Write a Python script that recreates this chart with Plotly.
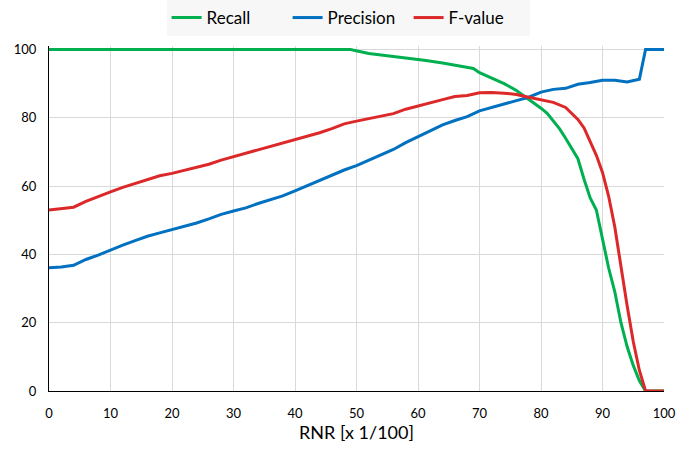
import plotly.graph_objects as go

# Recall
rec_x = [0, 49, 52, 55, 58, 61, 64, 67, 69, 70, 72, 74, 76, 78, 80, 81, 82, 83, 84, 85, 86, 87, 88, 89, 90, 91, 92, 93, 94, 95, 96, 97, 100]
rec_y = [100, 100, 98.8, 98.2, 97.5, 96.8, 96, 95, 94.4, 93.2, 91.5, 90, 88, 85.5, 82.8, 81.3, 79.2, 76.8, 74, 71, 68, 62, 56.5, 53, 45, 36, 29, 20, 13, 7.5, 3, 0, 0]

# Precision
pre_x = [0, 2, 4, 6, 8, 10, 12, 14, 16, 18, 20, 22, 24, 26, 28, 30, 32, 34, 36, 38, 40, 42, 44, 46, 48, 50,
         52, 54, 56, 58, 60, 62, 64, 66, 68, 70, 72, 74, 76, 78, 80, 82, 84, 86, 88, 90, 92, 94, 96, 97, 100]
pre_y = [36.1, 36.3, 36.8, 38.5, 39.8, 41.3, 42.7, 44, 45.3, 46.3, 47.2, 48.1, 49.2, 50.4, 51.7, 52.7, 53.6, 54.9, 55.9, 57.1,
         58.6, 60.1, 61.6, 63.3, 64.7, 66, 67.5, 69, 70.7, 72.7, 74.5, 76.3, 77.9, 79.2, 80.3, 82, 83.1, 84, 85, 86,
         87.5, 88.3, 88.6, 89.8, 90.3, 91, 91, 90.5, 91.3, 100, 100]

# F-value
f_x = [0, 2, 4, 6, 8, 10, 12, 14, 16, 18, 20, 22, 24, 26, 28, 30, 32, 34, 36, 38, 40, 42, 44, 46, 48, 50,
       52, 54, 56, 58, 60, 62, 64, 66, 68, 70, 72, 74, 76, 78, 80, 82, 84, 86, 87, 88, 89, 90, 91, 92, 93, 94, 95, 96, 97, 100]
f_y = [53, 53.3, 53.8, 55.5, 57, 58.3, 59.6, 60.7, 62, 63, 63.7, 64.6, 65.5, 66.4, 67.6, 68.6, 69.6, 70.5, 71.5, 72.4,
       73.5, 74.5, 75.6, 76.8, 78.2, 79, 79.8, 80.5, 81.2, 82.5, 83.5, 84.5, 85.3, 86.2, 86.5, 87.3, 87.4, 87.2, 86.8, 86,
       85.3, 84.5, 83, 79.5, 77, 73, 69, 64, 57, 48, 36, 25, 14.5, 6, 0, 0]

x_ticks = [0, 10, 20, 30, 40, 50, 60, 70, 80, 90, 100]
y_ticks = [0, 20, 40, 60, 80, 100]

FONT = "Lato, Open Sans, Arial"

fig = go.Figure()
fig.add_trace(go.Scatter(x=rec_x, y=rec_y, mode="lines", name="Recall",
                         line=dict(color="#00B050", width=3)))
fig.add_trace(go.Scatter(x=pre_x, y=pre_y, mode="lines", name="Precision",
                         line=dict(color="#0070C0", width=3)))
fig.add_trace(go.Scatter(x=f_x, y=f_y, mode="lines", name="F-value",
                         line=dict(color="#DC2828", width=3)))

fig.update_layout(
    width=699, height=456,
    paper_bgcolor="white", plot_bgcolor="white",
    margin=dict(l=49, r=35, t=46, b=65, autoexpand=False),
    font=dict(family=FONT, size=13, color="#000000"),
    showlegend=True,
    legend=dict(orientation="h", x=0.498, xanchor="center", y=1.0, yanchor="top",
                yref="container", xref="container",
                bgcolor="#F7F7F7", font=dict(size=17, family=FONT),
                entrywidth=76, entrywidthmode="pixels", tracegroupgap=0),
    xaxis=dict(range=[0, 100], tickvals=x_ticks, showgrid=True, gridcolor="#D9D9D9", gridwidth=1,
               showline=True, linecolor="#000000", linewidth=1, zeroline=False, ticks="",
               automargin=False, ticklabelstandoff=10,
               title=dict(text="RNR [x 1/100]", font=dict(size=18, family=FONT), standoff=0)),
    yaxis=dict(range=[0, 101], tickvals=y_ticks, showgrid=True, gridcolor="#D9D9D9", gridwidth=1,
               showline=True, linecolor="#000000", linewidth=1, zeroline=False, ticks="",
               automargin=False, ticklabelstandoff=9),
)

fig.write_html("out.html", config={"displayModeBar": False},
               post_script="document.body.style.margin='0px';")
